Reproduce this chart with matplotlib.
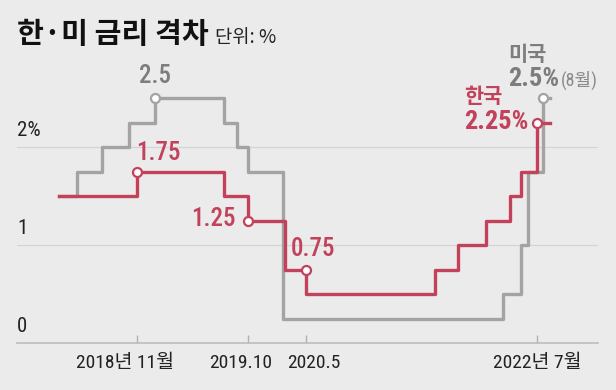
import matplotlib
matplotlib.use("Agg")
import matplotlib.pyplot as plt
from matplotlib import font_manager
from matplotlib.transforms import ScaledTranslation

# x = months since Jan 2018
kr_x = [2.4, 10.9, 20.3, 23.0, 27.0, 29.3, 43.3, 45.8, 48.8, 51.4, 52.6, 54.4]
kr_rate = [1.5, 1.75, 1.5, 1.25, 0.75, 0.5, 0.75, 1.0, 1.25, 1.5, 1.75, 2.25]
us_x = [2.4, 4.4, 7.1, 10.0, 12.9, 20.3, 21.8, 23.0, 26.8, 50.7, 52.6, 53.4, 55.0]
us_rate = [1.5, 1.75, 2.0, 2.25, 2.5, 2.25, 2.0, 1.75, 0.25, 0.5, 1.0, 1.75, 2.5]
end_x = 55.8

tick_pos = [10.9, 23.0, 29.3, 54.4]
tick_labels = ["2018년 11월", "2019.10", "2020.5", "2022년 7월"]
tick_shift = [-12, -8, 7, 0]   # label nudges in pixels
y_ticks = [0, 1, 2]
y_labels = ["0", "1", "2%"]

RED = "#c2425c"
GRAY = "#a3a3a3"
GRAY_TXT = "#7d7d7d"
BG = "#ebebeb"

# pick a narrow latin face, Korean glyphs fall back to Noto CJK
installed = {f.name for f in font_manager.fontManager.ttflist}
narrow = next((n for n in ["Roboto Condensed", "Archivo Narrow", "Asap Condensed",
                           "Open Sans Condensed", "Liberation Sans Narrow"] if n in installed), "DejaVu Sans")
FONT = [narrow, "Noto Sans CJK KR", "DejaVu Sans"]
plt.rcParams["font.family"] = FONT

fig = plt.figure(figsize=(6.16, 3.9), dpi=100, facecolor=BG)
ax = fig.add_axes([17 / 616, 47 / 390, 581 / 616, 3.2 * 98 / 390])
ax.set_facecolor(BG)
ax.set_xlim(-2.15, 61.0)
ax.set_ylim(0, 3.2)

for v in y_ticks[1:]:
    ax.axhline(v, color="#d4d4d4", lw=0.9, zorder=1)
for v, lab in zip(y_ticks, y_labels):
    ax.annotate(lab, (0, v), xycoords=("axes fraction", "data"), xytext=(0, 5),
                textcoords="offset points", ha="left", va="bottom",
                fontsize=15, color="#222222")

ax.step(us_x + [end_x], us_rate + [us_rate[-1]], where="post", color=GRAY, lw=2.4, zorder=2)
ax.step(kr_x + [end_x], kr_rate + [kr_rate[-1]], where="post", color=RED, lw=2.4, zorder=3)

# circle markers
mk = dict(marker="o", ms=6.5, mfc="white", mew=1.6, ls="none", zorder=4)
ax.plot([us_x[4], us_x[-1]], [us_rate[4], us_rate[-1]], mec=GRAY, **mk)
ax.plot([kr_x[1], kr_x[3], kr_x[5], kr_x[-1]], [kr_rate[1], kr_rate[3], kr_rate[4], kr_rate[-1]], mec=RED, **mk)

lab = dict(textcoords="offset points", fontsize=18, fontweight="medium")
ax.annotate("2.5", (us_x[4], us_rate[4]), xytext=(0, 7), ha="center", va="bottom", color=GRAY_TXT, **lab)
ax.annotate("1.75", (kr_x[1], kr_rate[1]), xytext=(-1, 5), ha="left", va="bottom", color=RED, **lab)
ax.annotate("1.25", (kr_x[3], kr_rate[3]), xytext=(-9, 1), ha="right", va="center", color=RED, **lab)
ax.annotate("0.75", (kr_x[5], kr_rate[4]), xytext=(-11, 6), ha="left", va="bottom", color=RED, **lab)

ax.annotate("한국", (kr_x[-1], kr_rate[-1]), xytext=(-53, 18), ha="left", va="center",
            color=RED, textcoords="offset points", fontsize=15, fontweight="bold")
ax.annotate("2.25%", (kr_x[-1], kr_rate[-1]), xytext=(-53, 0.5), ha="left", va="center",
            color=RED, textcoords="offset points", fontsize=19, fontweight="bold")
ax.annotate("미국", (us_x[-1], us_rate[-1]), xytext=(-25, 31), ha="left", va="center",
            color=GRAY_TXT, textcoords="offset points", fontsize=15, fontweight="bold")
ax.annotate("2.5%", (us_x[-1], us_rate[-1]), xytext=(-25, 13.5), ha="left", va="center",
            color=GRAY_TXT, textcoords="offset points", fontsize=19, fontweight="bold")
ax.annotate("(8월)", (us_x[-1], us_rate[-1]), xytext=(13, 13), ha="left", va="center",
            color="#8a8a8a", textcoords="offset points", fontsize=13)

for s in ["top", "left", "right"]:
    ax.spines[s].set_visible(False)
ax.spines["bottom"].set_color("#bdbdbd")
ax.spines["bottom"].set_linewidth(1.2)
ax.set_yticks([])
ax.set_xticks(tick_pos)
ax.set_xticklabels(tick_labels, fontsize=14, color="#222222")
ax.tick_params(axis="x", direction="in", length=6, width=1, color="#b0b0b0", pad=8)
for t, dx in zip(ax.get_xticklabels(), tick_shift):
    t.set_transform(t.get_transform() + ScaledTranslation(dx / 100, 0, fig.dpi_scale_trans))

fig.text(17 / 616, 1 - 34 / 390, "한·미 금리 격차", fontsize=21, fontweight="bold",
         family=["Noto Sans CJK KR", "DejaVu Sans"], va="center", ha="left", color="#111111")
fig.text(215 / 616, 1 - 37 / 390, "단위: %", fontsize=13.5,
         family=["Noto Sans CJK KR", "DejaVu Sans"], va="center", ha="left", color="#222222")

fig.savefig("out.png", dpi=100, facecolor=BG)
